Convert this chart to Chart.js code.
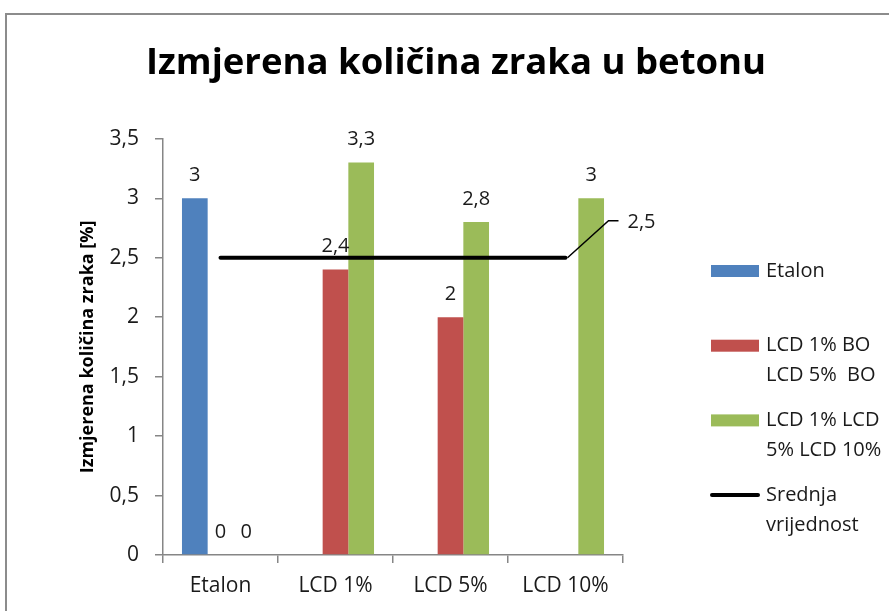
<!DOCTYPE html>
<html>
<head>
<meta charset="utf-8">
<script src="https://cdn.jsdelivr.net/npm/chart.js@4"></script>
<style>
  html, body { margin: 0; padding: 0; background: #fff; overflow: hidden; }
  #graf { display: block; }
</style>
</head>
<body>
<canvas id="graf" width="889" height="611"></canvas>
<script>
// data
const kategorije = ['Etalon', 'LCD 1%', 'LCD 5%', 'LCD 10%'];
const etalon = [3, null, null, null];
const lcdBO = [0, 2.4, 2, null];
const lcdLCD = [0, 3.3, 2.8, 3];
const srednja = [2.5, 2.5, 2.5, 2.5];
const nazivi = ['Etalon', 'LCD 1% BO\nLCD 5%  BO', 'LCD 1% LCD\n5% LCD 10%', 'Srednja\nvrijednost'];
const boje = ['#4F81BD', '#C0504D', '#9BBB59', '#000000'];

const FONT = '"Open Sans", Carlito, Calibri, sans-serif';
const SIVA = '#868686';
const TEKST = '#1a1a1a';

function zarez(v) {
    return String(v).replace('.', ',');
}

// okvir oko grafa
const okvir = {
    id: 'okvir',
    beforeDraw(chart) {
        const c = chart.ctx;
        c.save();
        c.fillStyle = '#fff';
        c.fillRect(0, 0, chart.width, chart.height);
        c.strokeStyle = '#8c8c8c';
        c.lineWidth = 2;
        c.beginPath();
        c.moveTo(6, chart.height + 5);
        c.lineTo(6, 14);
        c.lineTo(chart.width + 5, 14);
        c.stroke();
        c.restore();
    }
};

// oznake vrijednosti + legenda
const oznake = {
    id: 'oznake',
    afterDraw(chart) {
        const c = chart.ctx;
        c.save();
        c.font = '20px ' + FONT;
        c.fillStyle = TEKST;
        c.textAlign = 'center';
        c.textBaseline = 'middle';
        chart.data.datasets.forEach((ds, di) => {
            const meta = chart.getDatasetMeta(di);
            if (ds.type === 'line') {
                // zadnja tocka s vodilicom
                const n = ds.data.length - 1;
                const p = meta.data[n];
                c.strokeStyle = '#000';
                c.lineWidth = 1.5;
                c.beginPath();
                c.moveTo(p.x + 2, p.y);
                c.lineTo(p.x + 43, p.y - 37);
                c.lineTo(p.x + 53, p.y - 37);
                c.stroke();
                c.textAlign = 'left';
                c.fillText(zarez(ds.data[n]), p.x + 62, p.y - 35);
                c.textAlign = 'center';
                return;
            }
            ds.data.forEach((v, i) => {
                if (v === null) return;
                const el = meta.data[i];
                c.fillText(zarez(v), el.x, el.y - 23);
            });
        });

        // legenda
        const lx = 711, lw = 48;
        let ly = 271;
        chart.data.datasets.forEach((ds) => {
            if (ds.type === 'line') {
                c.strokeStyle = ds.borderColor;
                c.lineWidth = 4;
                c.lineCap = 'round';
                c.beginPath();
                c.moveTo(lx + 1, ly);
                c.lineTo(lx + lw - 1, ly);
                c.stroke();
            } else {
                c.fillStyle = ds.backgroundColor;
                c.fillRect(lx, ly - 6, lw, 12);
            }
            c.fillStyle = TEKST;
            c.textAlign = 'left';
            ds.label.split('\n').forEach((red, k) => {
                c.fillText(red, lx + 55, ly + k * 30);
            });
            ly += 74.7;
        });
        c.restore();
    }
};

new Chart(document.getElementById('graf'), {
    data: {
        labels: kategorije,
        datasets: [
            { type: 'bar', label: nazivi[0], data: etalon, backgroundColor: boje[0], order: 1 },
            { type: 'bar', label: nazivi[1], data: lcdBO, backgroundColor: boje[1], order: 1 },
            { type: 'bar', label: nazivi[2], data: lcdLCD, backgroundColor: boje[2], order: 1 },
            { type: 'line', label: nazivi[3], data: srednja, borderColor: boje[3], borderWidth: 4,
              pointRadius: 0, borderCapStyle: 'round', order: 0 }
        ]
    },
    options: {
        responsive: false,
        animation: false,
        devicePixelRatio: 1,
        layout: { padding: { left: 23, right: 0, top: 0, bottom: 0 } },
        datasets: { bar: { categoryPercentage: 0.67, barPercentage: 1 } },
        plugins: {
            legend: { display: false },
            tooltip: { enabled: false },
            title: {
                display: true,
                text: 'Izmjerena količina zraka u betonu',
                color: '#000',
                font: { family: FONT, size: 36.5, weight: 'bold' },
                padding: { top: 42, bottom: 53 }
            }
        },
        scales: {
            x: {
                grid: { offset: true, drawOnChartArea: false, drawTicks: true, tickLength: 8, color: SIVA, lineWidth: 1.5 },
                border: { color: SIVA, width: 1.5 },
                ticks: { color: TEKST, font: { family: FONT, size: 21 }, padding: 10 },
                afterFit(s) { s.height = 56; }
            },
            y: {
                min: 0,
                max: 3.5,
                grid: { drawOnChartArea: false, drawTicks: true, tickLength: 8, color: SIVA, lineWidth: 1.5 },
                border: { color: SIVA, width: 1.5 },
                ticks: { stepSize: 0.5, color: TEKST, font: { family: FONT, size: 21 }, padding: 16,
                         callback: (v) => zarez(v) },
                title: {
                    display: true,
                    text: 'Izmjerena količina zraka [%]',
                    color: '#000',
                    font: { family: FONT, size: 18, weight: 'bold' },
                    padding: { top: 54, bottom: 0 }
                },
                afterFit(s) { s.width = 140; }
            },
            prazno: {
                type: 'linear',
                position: 'right',
                grid: { display: false },
                border: { display: false },
                ticks: { display: false },
                afterFit(s) { s.width = 266; }
            }
        }
    },
    plugins: [okvir, oznake]
});
</script>
</body>
</html>
